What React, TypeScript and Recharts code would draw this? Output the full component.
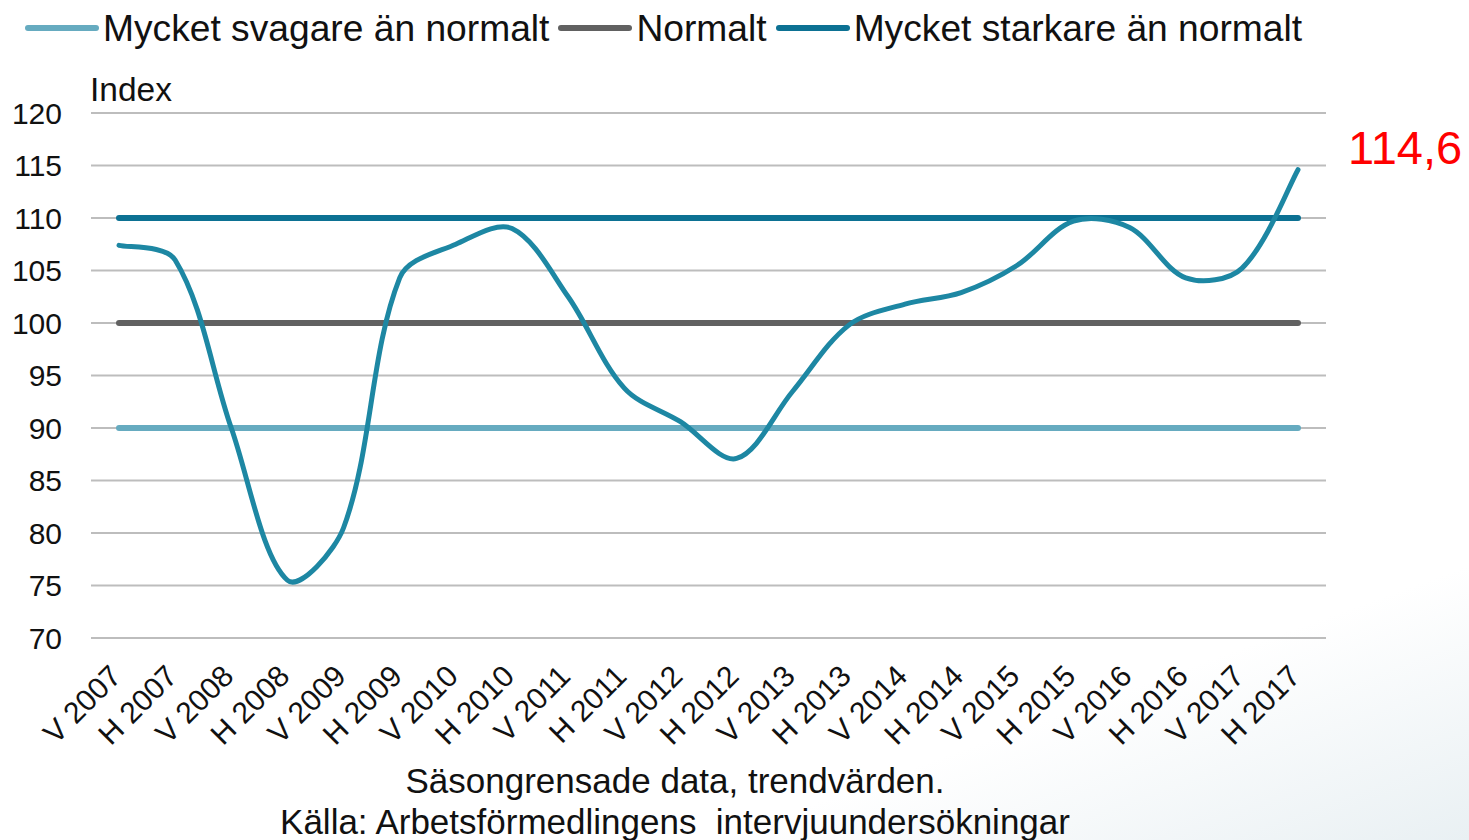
import React from "react";
import { LineChart, Line, XAxis, YAxis, CartesianGrid, Legend } from "recharts";

const categories = [
  "V 2007", "H 2007", "V 2008", "H 2008", "V 2009", "H 2009", "V 2010", "H 2010",
  "V 2011", "H 2011", "V 2012", "H 2012", "V 2013", "H 2013", "V 2014", "H 2014",
  "V 2015", "H 2015", "V 2016", "H 2016", "V 2017", "H 2017",
];

// trendvärde per halvår
const indexValues = [
  107.4, 106.0, 90.0, 75.5, 80.5, 104.3, 107.5, 109.0, 102.5, 93.8, 90.6, 87.1,
  93.5, 99.8, 101.8, 102.9, 105.5, 109.7, 109.1, 104.3, 105.2, 114.6,
];

const svagare = [90, 90, 90, 90, 90, 90, 90, 90, 90, 90, 90, 90, 90, 90, 90, 90, 90, 90, 90, 90, 90, 90];
const normalt = [100, 100, 100, 100, 100, 100, 100, 100, 100, 100, 100, 100, 100, 100, 100, 100, 100, 100, 100, 100, 100, 100];
const starkare = [110, 110, 110, 110, 110, 110, 110, 110, 110, 110, 110, 110, 110, 110, 110, 110, 110, 110, 110, 110, 110, 110];

const yTicks = [70, 75, 80, 85, 90, 95, 100, 105, 110, 115, 120];
const legendOrder = ["Mycket svagare än normalt", "Normalt", "Mycket starkare än normalt"];
const lastValueLabel = "114,6";

const data = categories.map((c, i) => ({
  cat: c,
  index: indexValues[i],
  svagare: svagare[i],
  normalt: normalt[i],
  starkare: starkare[i],
}));

const FONT = "'Liberation Sans', Arial, sans-serif";

// Excel-like smoothed line: bezier with tangents weighted by segment length
const smoothCurve = (context: any) => {
  let pts: number[][] = [];
  const t = 1 / 3;
  return {
    areaStart() {},
    areaEnd() {},
    lineStart() {
      pts = [];
    },
    point(x: number, y: number) {
      pts.push([+x, +y]);
    },
    lineEnd() {
      const n = pts.length;
      if (!n) return;
      const outC: number[][] = [];
      const inC: number[][] = [];
      for (let i = 0; i < n; i++) {
        const p = pts[i];
        const prev = pts[Math.max(i - 1, 0)];
        const next = pts[Math.min(i + 1, n - 1)];
        const tx = next[0] - prev[0];
        const ty = next[1] - prev[1];
        const dp = Math.hypot(p[0] - prev[0], p[1] - prev[1]);
        const dn = Math.hypot(next[0] - p[0], next[1] - p[1]);
        const s = dp + dn || 1;
        const fo = i === 0 || i === n - 1 ? t / 2 : (t * dn) / s;
        const fi = i === 0 || i === n - 1 ? t / 2 : (t * dp) / s;
        outC.push([p[0] + tx * fo, p[1] + ty * fo]);
        inC.push([p[0] - tx * fi, p[1] - ty * fi]);
      }
      context.moveTo(pts[0][0], pts[0][1]);
      for (let i = 0; i < n - 1; i++) {
        context.bezierCurveTo(outC[i][0], outC[i][1], inC[i + 1][0], inC[i + 1][1], pts[i + 1][0], pts[i + 1][1]);
      }
    },
  };
};

const XTick = ({ x, y, payload }: any) => {
  const ax = x + 4;
  const ay = y + 32;
  return (
    <text
      x={ax}
      y={ay}
      transform={`rotate(-45 ${ax} ${ay})`}
      textAnchor="end"
      fontSize={30}
      fontFamily={FONT}
      fill="#111"
    >
      {payload.value}
    </text>
  );
};

const renderLegend = ({ payload }: any) => {
  const items = legendOrder
    .map((n) => (payload || []).find((p: any) => p.value === n))
    .filter(Boolean);
  return (
    <div style={{ display: "flex", alignItems: "center", fontFamily: FONT, fontSize: 37.2, color: "#111", whiteSpace: "nowrap" }}>
      {items.map((p: any) => (
        <div key={p.value} style={{ display: "flex", alignItems: "center", marginRight: 9 }}>
          <span style={{ display: "inline-block", width: 74, height: 6, borderRadius: 3, background: p.color }} />
          <span style={{ marginLeft: 4, lineHeight: "40px" }}>{p.value}</span>
        </div>
      ))}
    </div>
  );
};

export default function App() {
  return (
    <div
      style={{
        position: "absolute",
        left: 0,
        top: 0,
        width: 1469,
        height: 840,
        overflow: "hidden",
        background: "linear-gradient(160deg, #ffffff 0%, #ffffff 80%, #e9f0f3 100%)",
      }}
    >
      <LineChart
        width={1469}
        height={840}
        data={data}
        margin={{ top: 113, right: 143, bottom: 92, left: 0 }}
      >
        <CartesianGrid vertical={false} stroke="#bdbdbd" strokeWidth={2} />
        <XAxis
          dataKey="cat"
          interval={0}
          padding={{ left: 28, right: 28 }}
          axisLine={{ stroke: "#bdbdbd", strokeWidth: 2 }}
          tickLine={false}
          height={110}
          tick={<XTick />}
        />
        <YAxis
          domain={[70, 120]}
          ticks={yTicks}
          width={91}
          axisLine={false}
          tickLine={false}
          tickMargin={23}
          tick={{ fontSize: 30, fontFamily: FONT, fill: "#111" }}
        />
        <Legend
          layout="horizontal"
          verticalAlign="middle"
          align="center"
          content={renderLegend}
          wrapperStyle={{ top: 8, left: 25, width: "auto", height: 40 }}
        />
        <Line
          dataKey="svagare"
          name="Mycket svagare än normalt"
          stroke="#66abc0"
          strokeWidth={6}
          strokeLinecap="round"
          dot={false}
          activeDot={false}
          isAnimationActive={false}
        />
        <Line
          dataKey="normalt"
          name="Normalt"
          stroke="#616161"
          strokeWidth={6}
          strokeLinecap="round"
          dot={false}
          activeDot={false}
          isAnimationActive={false}
        />
        <Line
          dataKey="starkare"
          name="Mycket starkare än normalt"
          stroke="#0c7193"
          strokeWidth={6}
          strokeLinecap="round"
          dot={false}
          activeDot={false}
          isAnimationActive={false}
        />
        <Line
          dataKey="index"
          name="Index"
          type={smoothCurve as any}
          stroke="#1d87a3"
          strokeWidth={5}
          strokeLinecap="round"
          legendType="none"
          dot={false}
          activeDot={false}
          isAnimationActive={false}
        />
      </LineChart>
      <div style={{ position: "absolute", left: 90, top: 73, fontFamily: FONT, fontSize: 33.5, lineHeight: 1, color: "#111" }}>
        Index
      </div>
      <div style={{ position: "absolute", left: 1348, top: 124, fontFamily: FONT, fontSize: 47, lineHeight: 1, color: "#ff0000" }}>
        {lastValueLabel}
      </div>
      <div
        style={{
          position: "absolute",
          left: 0,
          width: 1350,
          top: 763,
          textAlign: "center",
          fontFamily: FONT,
          fontSize: 35,
          lineHeight: 1,
          color: "#111",
        }}
      >
        <div>Säsongrensade data, trendvärden.</div>
        <div style={{ marginTop: 6 }}>Källa: Arbetsförmedlingens&nbsp; intervjuundersökningar</div>
      </div>
    </div>
  );
}
